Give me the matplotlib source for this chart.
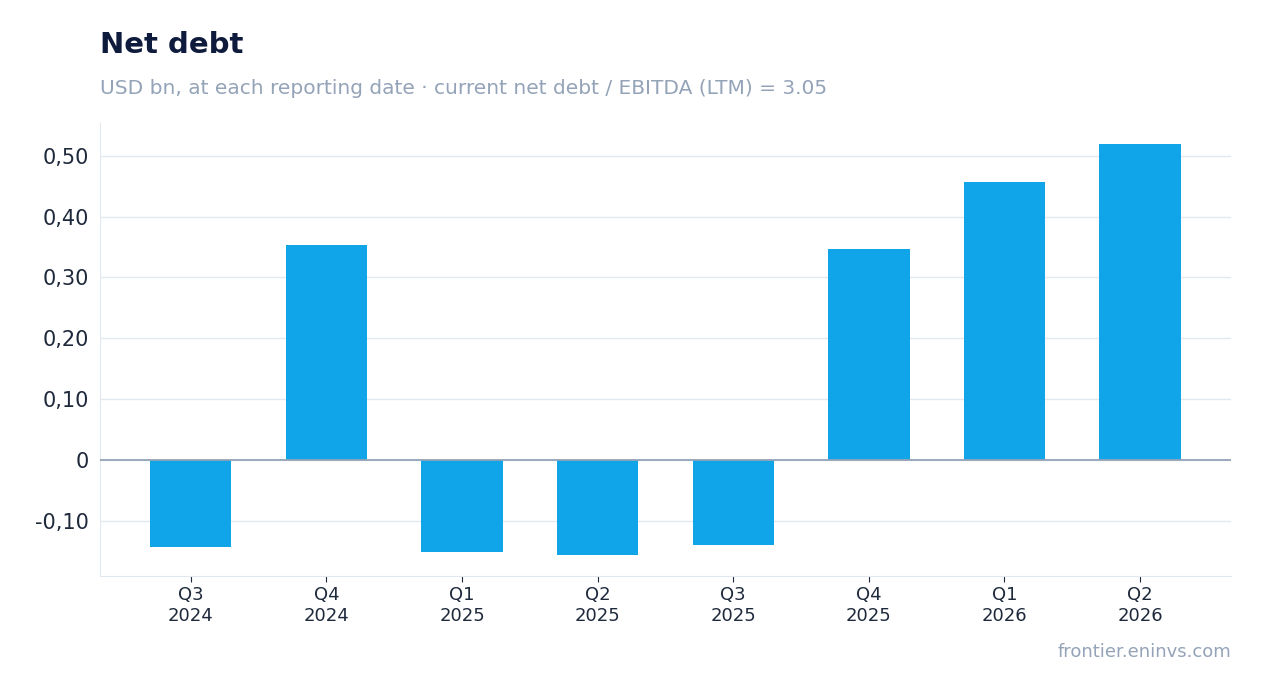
import matplotlib.pyplot as plt
from matplotlib.ticker import FuncFormatter

quarters = ["Q3\n2024", "Q4\n2024", "Q1\n2025", "Q2\n2025", "Q3\n2025", "Q4\n2025", "Q1\n2026", "Q2\n2026"]
net_debt = [-0.143, 0.354, -0.151, -0.156, -0.140, 0.347, 0.457, 0.520]

fig = plt.figure(figsize=(12.62, 6.93), dpi=100)
ax = fig.add_axes([0.0792, 0.1688, 0.8962, 0.6537])

x = range(len(quarters))
ax.bar(x, net_debt, width=0.6, color="#10a5e8", zorder=3)
ax.axhline(0, color="#94a3b8", lw=1.3, zorder=4)

ax.set_xlim(-0.67, 7.67)
ax.set_ylim(-0.191, 0.554)
ax.set_yticks([-0.1, 0, 0.1, 0.2, 0.3, 0.4, 0.5])

def fmt(v, pos):
    if abs(v) < 1e-9:
        return "0"
    return f"{v:.2f}".replace(".", ",")

ax.yaxis.set_major_formatter(FuncFormatter(fmt))
ax.set_xticks(list(x))
ax.set_xticklabels(quarters)
ax.grid(axis="y", color="#e2e8f0", lw=1, zorder=0)
ax.tick_params(axis="y", length=0, labelsize=15, colors="#1e293b", pad=8)
ax.tick_params(axis="x", labelsize=13, colors="#1e293b", color="#1e293b", length=4)
for s in ["top", "right"]:
    ax.spines[s].set_visible(False)
for s in ["left", "bottom"]:
    ax.spines[s].set_color("#e2e8f0")

fig.text(0.0792, 0.935, "Net debt", fontsize=21, fontweight="bold", color="#0f1b3d", va="center")
fig.text(0.0792, 0.873, "USD bn, at each reporting date · current net debt / EBITDA (LTM) = 3.05",
         fontsize=14.5, color="#94a3b8", va="center")
fig.text(0.9754, 0.059, "frontier.eninvs.com", fontsize=13, color="#94a3b8", ha="right", va="center")

fig.savefig("out.png", dpi=100)
